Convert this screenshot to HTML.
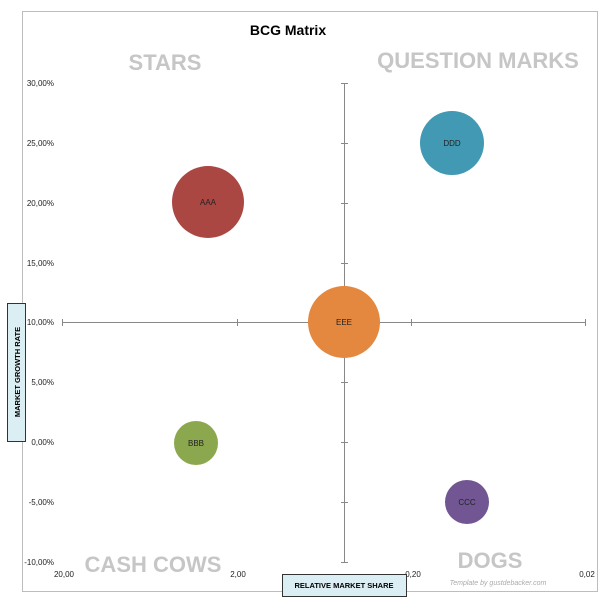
<!DOCTYPE html>
<html><head><style>
body{margin:0;background:#fff;}
svg{display:block;font-family:"Liberation Sans",sans-serif;}
</style></head><body>
<svg width="610" height="603" viewBox="0 0 610 603">
<rect x="22.5" y="11.5" width="575" height="580" fill="#fff" stroke="#bdbdbd"/>
<text x="288" y="35" font-size="14" font-weight="bold" text-anchor="middle">BCG Matrix</text>
<g fill="#c6c6c6" font-weight="bold" font-size="22" text-anchor="middle">
<text x="165" y="70">STARS</text>
<text x="478" y="68">QUESTION MARKS</text>
<text x="153" y="572">CASH COWS</text>
<text x="490" y="568">DOGS</text>
</g>
<g stroke="#888" stroke-width="1">
<line x1="344.5" y1="83" x2="344.5" y2="562"/>
<line x1="62" y1="322.5" x2="586" y2="322.5"/>
<line x1="341" y1="83.5" x2="348" y2="83.5"/><line x1="341" y1="143.5" x2="348" y2="143.5"/>
<line x1="341" y1="203.5" x2="348" y2="203.5"/><line x1="341" y1="263.5" x2="348" y2="263.5"/>
<line x1="341" y1="382.5" x2="348" y2="382.5"/><line x1="341" y1="442.5" x2="348" y2="442.5"/>
<line x1="341" y1="502.5" x2="348" y2="502.5"/><line x1="341" y1="562.5" x2="348" y2="562.5"/>
<line x1="62.5" y1="319" x2="62.5" y2="326"/><line x1="237.5" y1="319" x2="237.5" y2="326"/>
<line x1="411.5" y1="319" x2="411.5" y2="326"/><line x1="585.5" y1="319" x2="585.5" y2="326"/>
</g>
<g font-size="8" fill="#222" text-anchor="end">
<text x="54" y="86">30,00%</text><text x="54" y="146">25,00%</text>
<text x="54" y="206">20,00%</text><text x="54" y="266">15,00%</text>
<text x="54" y="325">10,00%</text><text x="54" y="385">5,00%</text>
<text x="54" y="445">0,00%</text><text x="54" y="505">-5,00%</text>
<text x="54" y="565">-10,00%</text>
</g>
<g font-size="8" fill="#222" text-anchor="middle">
<text x="64" y="577">20,00</text><text x="238" y="577">2,00</text>
<text x="413" y="577">0,20</text><text x="587" y="577">0,02</text>
</g>
<text x="498" y="585" font-size="7" font-style="italic" fill="#aaa" text-anchor="middle">Template by gustdebacker.com</text>
<circle cx="208" cy="202" r="36" fill="#ab4743"/>
<circle cx="452" cy="143" r="32" fill="#4299b3"/>
<circle cx="344" cy="322" r="36" fill="#e5883f"/>
<circle cx="196" cy="443" r="22" fill="#8ba84e"/>
<circle cx="467" cy="502" r="22" fill="#715693"/>
<g font-size="8" fill="#222" text-anchor="middle">
<text x="208" y="205">AAA</text><text x="452" y="146">DDD</text>
<text x="344" y="325">EEE</text><text x="196" y="446">BBB</text><text x="467" y="505">CCC</text>
</g>
<rect x="7.5" y="303.5" width="18" height="138" fill="#daeef3" stroke="#333"/>
<text transform="translate(20,372) rotate(-90)" font-size="7.5" font-weight="bold" text-anchor="middle">MARKET GROWTH RATE</text>
<rect x="282.5" y="574.5" width="124" height="22" fill="#daeef3" stroke="#333"/>
<text x="344" y="588" font-size="7.5" font-weight="bold" text-anchor="middle">RELATIVE MARKET SHARE</text>
</svg>
</body></html>
